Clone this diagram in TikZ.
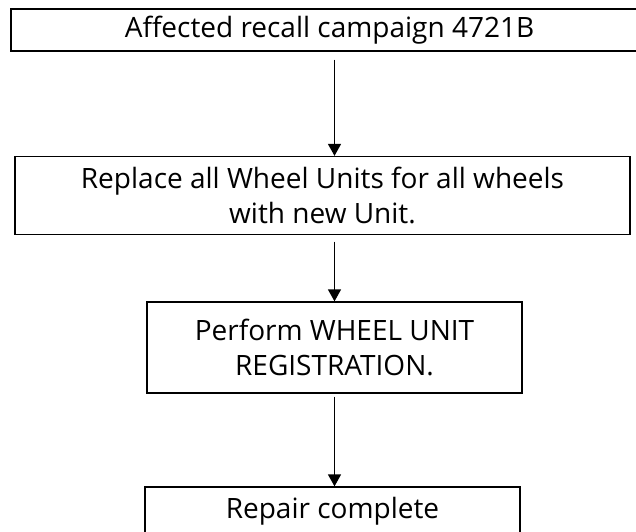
\documentclass[tikz,border=0pt]{standalone}
\usepackage{fontspec}
\setmainfont{Open Sans}
\usetikzlibrary{arrows.meta}
\tikzset{
  box/.style={draw=black, line width=1.3pt, rectangle, inner sep=0pt, align=center,
    font=\fontsize{28}{35}\selectfont},
  flow/.style={draw=black, line width=1.4pt, -{Triangle[width=13pt,length=12pt]}}
}
\begin{document}
\begin{tikzpicture}[x=1pt,y=-1pt]
\useasboundingbox (0,0) rectangle (636,531);
\clip (0,0) rectangle (636,531);
\node[box, minimum width=637pt, minimum height=42pt] (n1) at (329.5,30) {Affected recall campaign 4721B};
\node[box, minimum width=615pt, minimum height=78pt] (n2) at (322.5,195.5) {Replace all Wheel Units for all wheels\\with new Unit.};
\node[box, minimum width=375pt, minimum height=91pt] (n3) at (334.5,347.5) {Perform WHEEL UNIT\\REGISTRATION.};
\node[box, minimum width=375pt, minimum height=60pt, text depth=18pt] (n4) at (332.5,517) {Repair complete};
\draw[flow, shorten <=8pt] (n1.south -| n3) -- (n2.north -| n3);
\draw[flow, shorten <=6.5pt] (n2.south -| n3) -- (n3.north);
\draw[flow, shorten <=3pt] (n3.south) -- (n4.north -| n3);
\end{tikzpicture}
\end{document}
